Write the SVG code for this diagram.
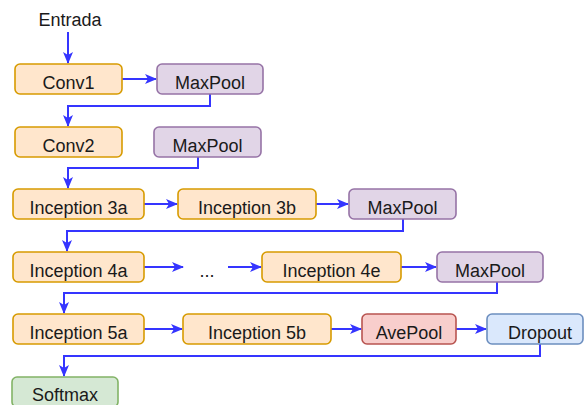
<svg xmlns="http://www.w3.org/2000/svg" width="584" height="405" viewBox="0 0 584 405">
  <defs>
    <marker id="arrow" viewBox="0 0 12 10" refX="11" refY="5" markerWidth="12" markerHeight="10" markerUnits="userSpaceOnUse" orient="auto">
      <path d="M0,0 L12,5 L0,10 L3,5 Z" fill="#3535ff"/>
    </marker>
    <style>
      .box { stroke-width: 1.6; }
      .orange { fill: #ffe6cc; stroke: #d79b00; }
      .purple { fill: #e1d5e7; stroke: #9673a6; }
      .red { fill: #f8cecc; stroke: #b85450; }
      .blue { fill: #dae8fc; stroke: #6c8ebf; }
      .green { fill: #d5e8d4; stroke: #82b366; }
      text { font-family: "Liberation Sans", Arial, sans-serif; font-size: 18px; fill: #1a1a1a; text-anchor: middle; }
      .edge { fill: none; stroke: #3535ff; stroke-width: 2; }
    </style>
  </defs>
  <rect width="584" height="405" fill="#ffffff"/>

  <g id="connectors">
    <path class="edge" d="M68,32 V63" marker-end="url(#arrow)"/>
    <path class="edge" d="M122,79 H156" marker-end="url(#arrow)"/>
    <path class="edge" d="M210,94 V106 H68 V126" marker-end="url(#arrow)"/>
    <path class="edge" d="M198,157 V168 H68 V188" marker-end="url(#arrow)"/>
    <path class="edge" d="M144,204 H177" marker-end="url(#arrow)"/>
    <path class="edge" d="M316,204 H348" marker-end="url(#arrow)"/>
    <path class="edge" d="M403,219 V231 H67 V251" marker-end="url(#arrow)"/>
    <path class="edge" d="M144,267 H183" marker-end="url(#arrow)"/>
    <path class="edge" d="M228,267 H261" marker-end="url(#arrow)"/>
    <path class="edge" d="M401,267 H436" marker-end="url(#arrow)"/>
    <path class="edge" d="M497,282 V293 H64 V313" marker-end="url(#arrow)"/>
    <path class="edge" d="M144,329 H182" marker-end="url(#arrow)"/>
    <path class="edge" d="M331,329 H361" marker-end="url(#arrow)"/>
    <path class="edge" d="M456,329 H486" marker-end="url(#arrow)"/>
    <path class="edge" d="M540,344 V356 H64 V376" marker-end="url(#arrow)"/>
  </g>

  <g id="entrada"><text x="70" y="26">Entrada</text></g>
  <g id="ellipsis"><text x="207" y="277">...</text></g>

  <g id="conv1"><rect class="box orange" x="15" y="64" width="107" height="30" rx="5"/><text x="68.5" y="89">Conv1</text></g>
  <g id="maxpool1"><rect class="box purple" x="157" y="64" width="106" height="30" rx="5"/><text x="210" y="89">MaxPool</text></g>
  <g id="conv2"><rect class="box orange" x="15" y="127" width="107" height="30" rx="5"/><text x="68.5" y="152">Conv2</text></g>
  <g id="maxpool2"><rect class="box purple" x="154" y="127" width="107" height="30" rx="5"/><text x="207.5" y="152">MaxPool</text></g>
  <g id="inception3a"><rect class="box orange" x="13" y="189" width="131" height="30" rx="5"/><text x="78.5" y="214">Inception 3a</text></g>
  <g id="inception3b"><rect class="box orange" x="178" y="189" width="138" height="30" rx="5"/><text x="247" y="214">Inception 3b</text></g>
  <g id="maxpool3"><rect class="box purple" x="349" y="189" width="107" height="30" rx="5"/><text x="402.5" y="214">MaxPool</text></g>
  <g id="inception4a"><rect class="box orange" x="13" y="252" width="131" height="30" rx="5"/><text x="78.5" y="277">Inception 4a</text></g>
  <g id="inception4e"><rect class="box orange" x="262" y="252" width="139" height="30" rx="5"/><text x="331.5" y="277">Inception 4e</text></g>
  <g id="maxpool4"><rect class="box purple" x="437" y="252" width="106" height="30" rx="5"/><text x="490" y="277">MaxPool</text></g>
  <g id="inception5a"><rect class="box orange" x="13" y="314" width="131" height="30" rx="5"/><text x="78.5" y="339">Inception 5a</text></g>
  <g id="inception5b"><rect class="box orange" x="183" y="314" width="148" height="30" rx="5"/><text x="257" y="339">Inception 5b</text></g>
  <g id="avepool"><rect class="box red" x="362" y="314" width="94" height="30" rx="5"/><text x="409" y="339">AvePool</text></g>
  <g id="dropout"><rect class="box blue" x="487" y="314" width="96" height="30" rx="5"/><text x="540" y="339">Dropout</text></g>
  <g id="softmax"><rect class="box green" x="12" y="377" width="106" height="30" rx="5"/><text x="65" y="401">Softmax</text></g>
</svg>
